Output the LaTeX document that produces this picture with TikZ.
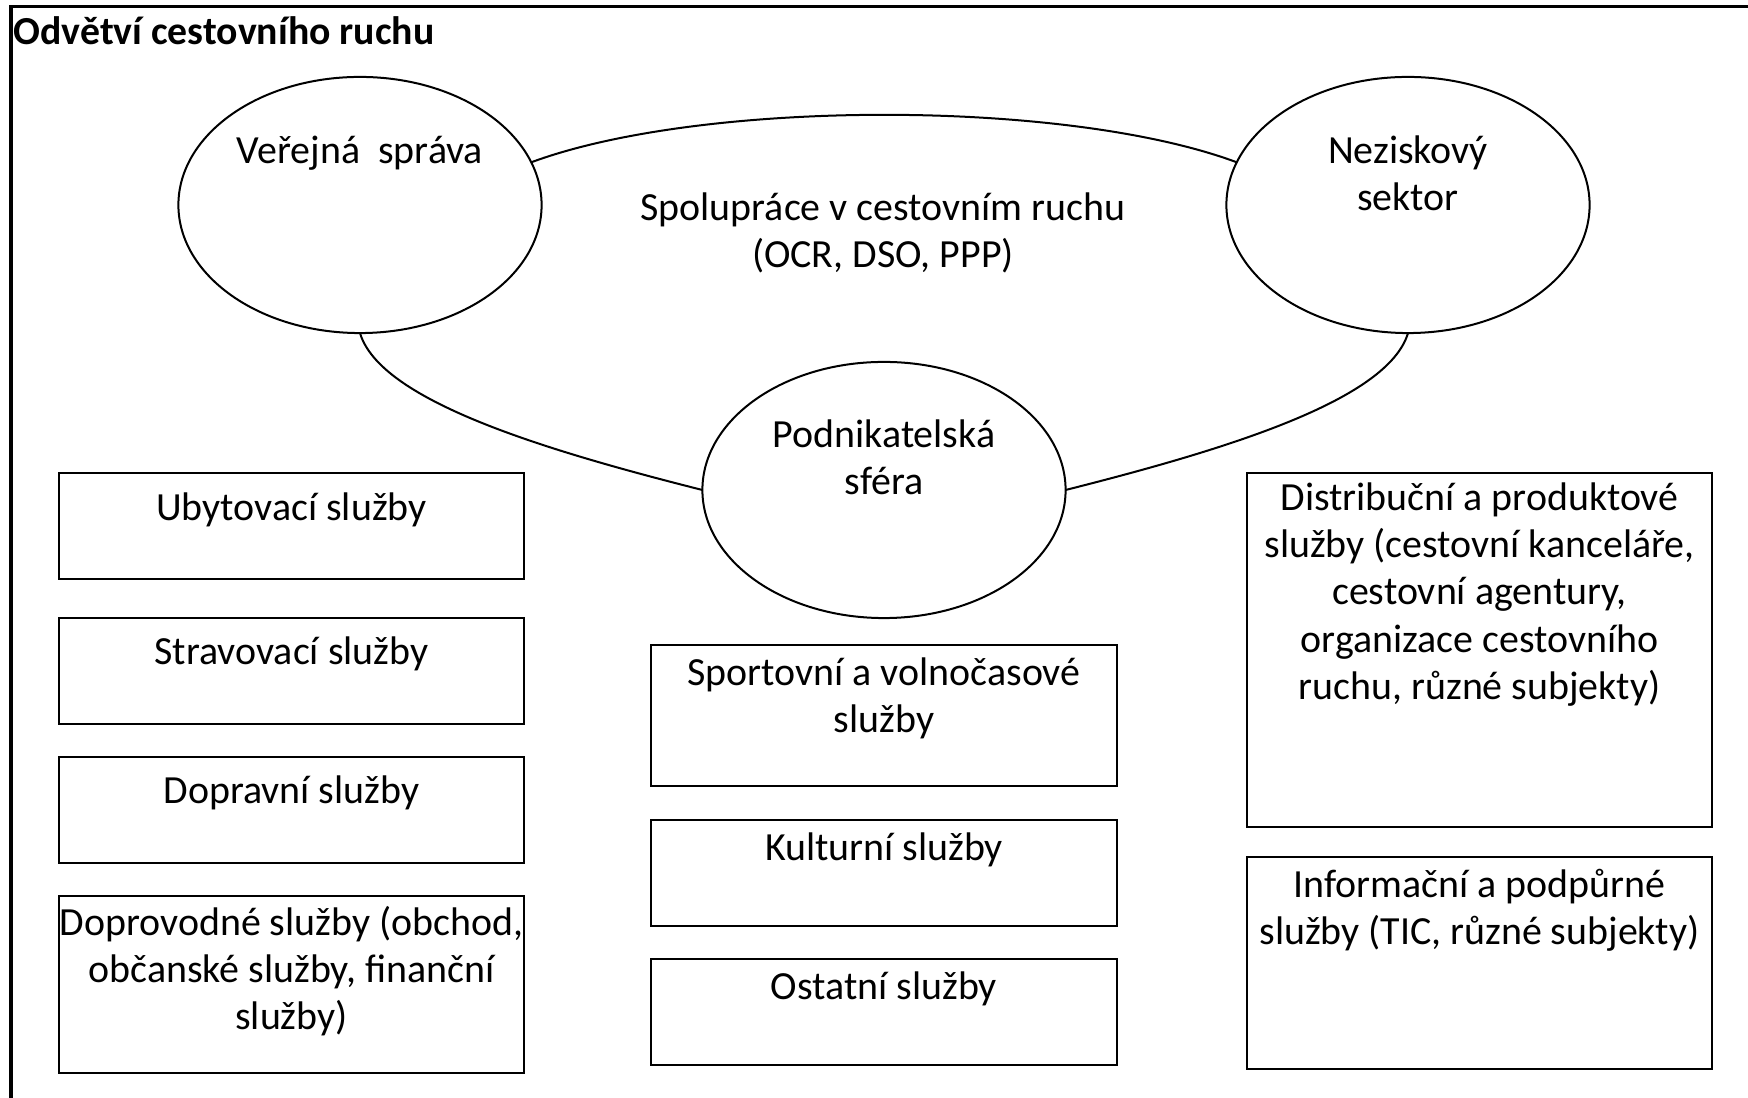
\documentclass[tikz,border=0pt]{standalone}
\usepackage{fontspec}
\setmainfont{Carlito}
\usetikzlibrary{shapes.geometric}
\newcommand{\tp}{\rule{0pt}{0.4cm}}
\tikzset{
  frame/.style={line width=0.03cm},
  box/.style={draw, line width=0.022cm, minimum width=4.65cm, inner sep=0pt, outer sep=0pt},
  oval/.style={ellipse, draw, fill=white, line width=0.02cm, minimum width=3.63cm, minimum height=2.56cm, inner sep=0pt, outer sep=0pt},
  link/.style={line width=0.02cm},
  txt/.style={anchor=north, align=center, inner sep=0pt, outer sep=0pt, font=\fontsize{11.35pt}{13.46pt}\selectfont},
}
\begin{document}
\begin{tikzpicture}[x=0.01cm, y=-0.01cm]
  \useasboundingbox (0,0) rectangle (1748,1098);
  % frame and title
  \draw[frame] (1748,7) -- (11,7) -- (11,1098);
  \node[anchor=base west, inner sep=0pt, font=\fontsize{11.3pt}{13pt}\selectfont\bfseries] (title) at (13,45) {Odvětví cestovního ruchu};

  % three sectors
  \node[oval] (vs) at (360,205) {};
  \node[oval] (ns) at (1408,205) {};
  \node[oval] (ps) at (884,490) {};
  \draw[link] (vs.14) .. controls (702,99) and (1067,99) .. (ns.166);
  \draw[link] (vs.south) .. controls (380,400) and (540,449) .. (ps.west);
  \draw[link] (ps.east) .. controls (1228,449) and (1388,400) .. (ns.south);
  \node[txt] (vs-t) at (360,123) {\tp Veřejná\ \ správa};
  \node[txt] (ns-t) at (1408,123) {\tp Neziskový\\sektor};
  \node[txt] (ps-t) at (884,407) {\tp Podnikatelská\\sféra};
  \node[txt] (spol) at (883,180) {\tp Spolupráce v cestovním ruchu\\(OCR, DSO, PPP)};

  % left column
  \node[box, minimum height=1.06cm] (ubyt) at (291.5,526) {};
  \node[box, minimum height=1.06cm] (strav) at (291.5,671) {};
  \node[box, minimum height=1.06cm] (dopr) at (291.5,810) {};
  \node[box, minimum height=1.77cm] (doprov) at (291.5,984.5) {};
  \node[txt] (ubyt-t) at (291.5,480) {\tp Ubytovací služby};
  \node[txt] (strav-t) at (291.5,624) {\tp Stravovací služby};
  \node[txt] (dopr-t) at (291.5,763) {\tp Dopravní služby};
  \node[txt] (doprov-t) at (291.5,895) {\tp Doprovodné služby (obchod,\\občanské služby, finanční\\služby)};

  % middle column
  \node[box, minimum height=1.41cm] (sport) at (884,715.5) {};
  \node[box, minimum height=1.06cm] (kult) at (884,873) {};
  \node[box, minimum height=1.06cm] (ostat) at (884,1012) {};
  \node[txt] (sport-t) at (884,645) {\tp Sportovní a volnočasové\\služby};
  \node[txt] (kult-t) at (884,820) {\tp Kulturní služby};
  \node[txt] (ostat-t) at (884,959) {\tp Ostatní služby};

  % right column
  \node[box, minimum height=3.54cm] (distr) at (1479.5,650) {};
  \node[box, minimum height=2.12cm] (info) at (1479.5,963) {};
  \node[txt] (distr-t) at (1479.5,470) {\tp Distribuční a produktové\\služby (cestovní kanceláře,\\cestovní agentury,\\organizace cestovního\\ruchu, různé subjekty)};
  \node[txt] (info-t) at (1479.5,857) {\tp Informační a podpůrné\\služby (TIC, různé subjekty)};
\end{tikzpicture}
\end{document}
